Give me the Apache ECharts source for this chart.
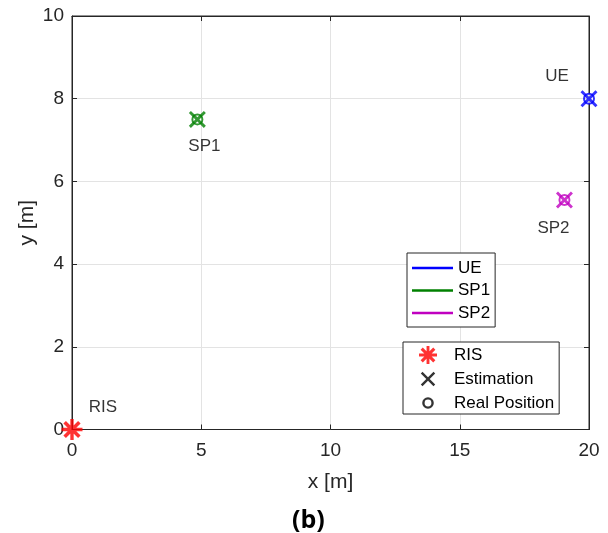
<!DOCTYPE html>
<html>
<head>
<meta charset="utf-8">
<script src="https://cdn.jsdelivr.net/npm/echarts@6/dist/echarts.min.js"></script>
<style>html,body{margin:0;padding:0;background:#fff;}#c{width:608px;height:533px;}</style>
</head>
<body>
<div id="c"></div>
<script>
// ---- data ----
const names = ['UE', 'SP1', 'SP2'];
const realX = [20, 4.85, 19.05];
const realY = [8, 7.5, 5.55];
const estX = [20, 4.85, 19.05];
const estY = [8, 7.5, 5.55];
const risPos = [0, 0];
const xTicks = [0, 5, 10, 15, 20];
const yTicks = [0, 2, 4, 6, 8, 10];

// ---- styles ----
const colors = ['#0000ff', '#008000', '#c000c0'];
const labelOffsets = [[-32, -22], [7, 27], [-11, 28]];
const FONT = 'Liberation Sans';
const X_PATH = 'path://M0,1.2 L1.2,0 L5,3.8 L8.8,0 L10,1.2 L6.2,5 L10,8.8 L8.8,10 L5,6.2 L1.2,10 L0,8.8 L3.8,5 Z';
const X_ICON = 'path://M0,0 M18,18 M1.8,3.5 L3.5,1.8 L9,7.3 L14.5,1.8 L16.2,3.5 L10.7,9 L16.2,14.5 L14.5,16.2 L9,10.7 L3.5,16.2 L1.8,14.5 L7.3,9 Z';
const STAR_PATH = 'path://M0,4.2 L10,4.2 L10,5.8 L0,5.8 Z M4.2,0 L5.8,0 L5.8,10 L4.2,10 Z M2.1,0.9 L9.1,7.9 L7.9,9.1 L0.9,2.1 Z M7.9,0.9 L9.1,2.1 L2.1,9.1 L0.9,7.9 Z';
const RING_ICON = 'path://M0,0 M18,18 M9,3.2 A5.8,5.8 0 1,1 9,14.8 A5.8,5.8 0 1,1 9,3.2 Z M9,5.6 A3.4,3.4 0 1,0 9,12.4 A3.4,3.4 0 1,0 9,5.6 Z';
const LINE_ICON = 'path://M0,0 L40,0 L40,2.5 L0,2.5 Z';

const chart = echarts.init(document.getElementById('c'), null, {renderer: 'canvas'});

const axisLineStyle = {show: true, onZero: false, lineStyle: {color: '#262626', width: 1}};
const tickStyle = {show: true, inside: true, length: 5, lineStyle: {color: '#262626'}};

const series = [];
names.forEach((n, i) => {
  series.push({
    name: n, type: 'line', symbol: 'none', silent: true,
    data: [[realX[i], realY[i]], [estX[i], estY[i]]],
    lineStyle: {color: colors[i], width: 2.5},
    itemStyle: {color: colors[i]},
    z: 2
  });
});
series.push({
  name: 'Real Position', type: 'scatter', symbol: 'emptyCircle', symbolSize: 10,
  itemStyle: {color: '#000', borderWidth: 2},
  data: names.map((n, i) => ({
    value: [realX[i], realY[i]],
    itemStyle: {color: colors[i], borderColor: colors[i]},
    label: {show: true, formatter: n, position: 'inside', offset: labelOffsets[i],
            color: '#000', fontSize: 17, fontFamily: FONT}
  })),
  z: 3
});
series.push({
  name: 'Estimation', type: 'scatter', symbol: X_PATH, symbolSize: 17,
  itemStyle: {color: '#000'},
  data: names.map((n, i) => ({
    value: [estX[i], estY[i]],
    itemStyle: {color: colors[i]}
  })),
  z: 4
});
series.push({
  name: 'RIS', type: 'scatter', symbol: STAR_PATH, symbolSize: 21,
  itemStyle: {color: '#ff0000'},
  data: [{value: risPos, label: {show: true, formatter: 'RIS', position: 'inside', offset: [31, -22],
          color: '#000', fontSize: 17, fontFamily: FONT}}],
  z: 5
});

chart.setOption({
  animation: false,
  backgroundColor: '#fff',
  title: {
    text: '(b)', left: 287, top: 503,
    textStyle: {fontFamily: 'Open Sans', fontWeight: 'bold', fontSize: 25, color: '#000'}
  },
  grid: {left: 72, right: 19, top: 16, bottom: 103.5, show: true, borderColor: '#262626', borderWidth: 1, backgroundColor: 'transparent'},
  xAxis: [{
    type: 'value', min: xTicks[0], max: xTicks[xTicks.length - 1], interval: 5,
    name: 'x [m]', nameLocation: 'middle', nameGap: 42, nameMoveOverlap: false,
    nameTextStyle: {fontFamily: FONT, fontSize: 21, color: '#262626'},
    axisLabel: {fontFamily: FONT, fontSize: 19, color: '#262626', margin: 12},
    splitLine: {show: true, lineStyle: {color: '#e3e3e3', width: 1}},
    axisLine: axisLineStyle, axisTick: tickStyle
  }, {
    type: 'value', position: 'top', min: xTicks[0], max: xTicks[xTicks.length - 1], interval: 5,
    axisLabel: {show: false}, splitLine: {show: false},
    axisLine: axisLineStyle, axisTick: tickStyle
  }],
  yAxis: [{
    type: 'value', min: yTicks[0], max: yTicks[yTicks.length - 1], interval: 2,
    name: 'y [m]', nameLocation: 'middle', nameGap: 34, nameMoveOverlap: false,
    nameTextStyle: {fontFamily: FONT, fontSize: 21, color: '#262626'},
    axisLabel: {fontFamily: FONT, fontSize: 19, color: '#262626', margin: 8, padding: [3, 0, 0, 0]},
    splitLine: {show: true, lineStyle: {color: '#e3e3e3', width: 1}},
    axisLine: axisLineStyle, axisTick: tickStyle
  }, {
    type: 'value', position: 'right', min: yTicks[0], max: yTicks[yTicks.length - 1], interval: 2,
    axisLabel: {show: false}, splitLine: {show: false},
    axisLine: axisLineStyle, axisTick: tickStyle
  }],
  legend: [{
    orient: 'vertical', left: 407, top: 253,
    data: names.map(n => ({name: n, icon: LINE_ICON})),
    itemWidth: 41, itemHeight: 14, itemGap: 5.5,
    padding: [6.5, 5, 5.5, 5],
    backgroundColor: '#fff', borderColor: '#262626', borderWidth: 1, borderRadius: 0,
    textStyle: {fontFamily: FONT, fontSize: 17, color: '#000', padding: [0, 0, 0, 0]},
    selectedMode: false
  }, {
    orient: 'vertical', left: 403, top: 342,
    data: [
      {name: 'RIS', icon: STAR_PATH},
      {name: 'Estimation', icon: X_ICON},
      {name: 'Real Position', icon: RING_ICON}
    ],
    itemWidth: 18, itemHeight: 18, itemGap: 6,
    padding: [4, 5, 2, 16],
    backgroundColor: '#fff', borderColor: '#262626', borderWidth: 1, borderRadius: 0,
    textStyle: {fontFamily: FONT, fontSize: 17, color: '#000', padding: [0, 0, 0, 12]},
    selectedMode: false
  }],
  series: series
});
</script>
</body>
</html>
